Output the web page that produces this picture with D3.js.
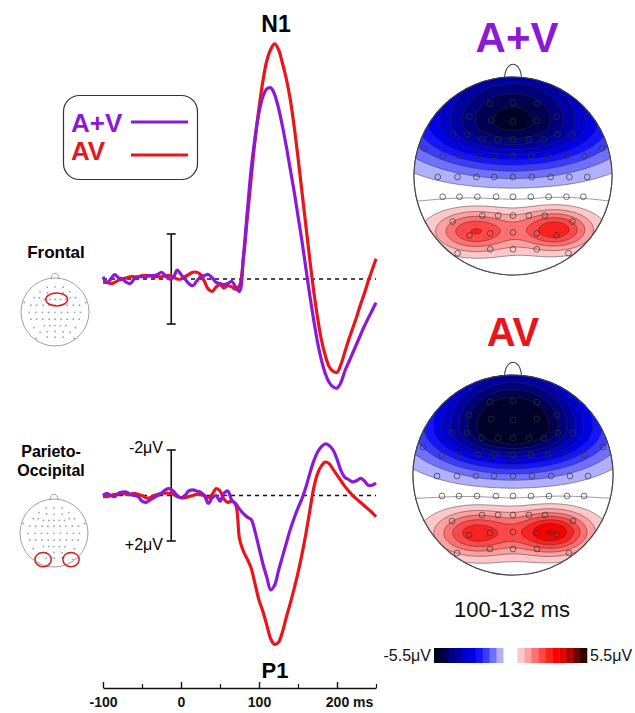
<!DOCTYPE html>
<html>
<head>
<meta charset="utf-8">
<script src="https://cdn.jsdelivr.net/npm/d3@7"></script>
<style>
  body { margin: 0; background: #fff; }
  svg { font-family: "Liberation Sans", Arial, sans-serif; }
</style>
</head>
<body>
<script>
// ---- data ----
const times = d3.range(-100, 251, 5);   // ms, one sample every 5 ms

// frontal ROI, µV (negative plotted up)
const frontalAplusV = [
  -0.1, 0.15, 0.0, -0.2, -0.05, 0.0, 0.15, 0.2, 0.0, -0.1,
  -0.1, -0.1, -0.15, -0.15, -0.2, -0.3, -0.15, 0.0, -0.05, -0.4,
  -0.2, 0.0, 0.2, 0.3, 0.1, -0.1, -0.15, -0.2, -0.05, 0.15,
  0.2, 0.25, 0.2, 0.1, 0.35, 0.55, -1.0, -3.0, -4.9, -6.3,
  -7.4, -8.1, -8.45, -8.5, -8.2, -7.6, -6.8, -5.9, -4.9, -3.9,
  -2.8, -1.7, -0.5, 0.7, 1.8, 2.8, 3.6, 4.2, 4.6, 4.8,
  4.85, 4.6, 4.1, 3.7, 3.3, 2.9, 2.5, 2.1, 1.75, 1.4,
  1.05
];
const frontalAV = [
  0.15, 0.15, 0.2, 0.15, 0.05, 0.0, -0.05, -0.1, -0.1, -0.1,
  -0.15, -0.15, -0.15, -0.1, -0.1, -0.1, -0.15, -0.15, -0.1, 0.0,
  0.0, -0.1, -0.2, -0.3, -0.3, -0.2, 0.1, 0.45, 0.55, 0.35,
  0.25, 0.4, 0.3, 0.35, 0.45, 0.3, -0.9, -2.7, -4.5, -6.2,
  -7.6, -8.8, -9.7, -10.2, -10.45, -10.2, -9.6, -8.9, -8.0, -6.8,
  -5.4, -3.9, -2.4, -0.9, 0.5, 1.7, 2.7, 3.4, 3.9, 4.1,
  4.15, 3.8, 3.25, 2.7, 2.2, 1.7, 1.15, 0.65, 0.1, -0.4,
  -0.9
];
// parieto-occipital ROI
const parietalAplusV = [
  0.0, -0.1, 0.0, 0.05, -0.1, -0.15, -0.15, -0.05, 0.0, 0.05,
  0.25, 0.3, 0.2, 0.1, 0.0, -0.1, -0.25, -0.3, -0.2, 0.0,
  0.1, 0.0, -0.2, -0.25, -0.2, -0.15, 0.0, 0.35, 0.1, 0.0,
  0.25, -0.1, -0.2, 0.2, 0.35, 0.6, 0.8, 0.95, 1.05, 1.6,
  2.3, 3.0, 3.6, 4.15, 3.95, 3.3, 2.7, 2.1, 1.5, 1.0,
  0.55, 0.15, -0.35, -0.95, -1.5, -1.9, -2.15, -2.27, -2.2, -2.0,
  -1.6, -1.1, -0.8, -0.7, -0.6, -0.65, -0.75, -0.65, -0.45, -0.45,
  -0.55
];
const parietalAV = [
  0.05, 0.05, 0.0, -0.05, -0.05, -0.1, -0.05, -0.05, -0.1, -0.05,
  0.0, 0.1, 0.1, 0.0, -0.05, -0.1, -0.1, -0.1, -0.05, 0.05,
  0.1, 0.1, 0.05, 0.0, -0.05, -0.05, 0.0, 0.1, -0.05, -0.3,
  -0.2, 0.15, 0.3, 0.25, 0.4, 1.9, 2.45, 2.8, 3.2, 3.9,
  4.6, 5.1, 5.7, 6.3, 6.55, 6.45, 6.0, 5.35, 4.75, 4.1,
  3.4, 2.6, 1.7, 0.7, -0.3, -0.95, -1.3, -1.47, -1.4, -1.15,
  -0.9, -0.65, -0.4, -0.2, 0.0, 0.15, 0.3, 0.45, 0.6, 0.75,
  0.93
];

const timeTicks = [-100, 0, 100, 200];
const timeMinorTicks = [-50, 50, 150, 250];
const conditions = ["A+V", "AV"];

// 64-channel montage, head units (u right, v toward the back)
const electrodes = [
  [-0.23,-0.73],[0,-0.74],[0.24,-0.73],
  [-0.44,-0.6],[-0.22,-0.56],[0,-0.55],[0.24,-0.56],[0.44,-0.6],
  [-0.61,-0.42],[-0.46,-0.42],[-0.31,-0.37],[-0.15,-0.37],[0,-0.37],[0.16,-0.37],[0.31,-0.37],[0.45,-0.42],[0.6,-0.42],
  [-0.9,-0.28],[0.9,-0.28],
  [-0.71,-0.2],[-0.54,-0.2],[-0.35,-0.2],[-0.18,-0.2],[0,-0.2],[0.18,-0.2],[0.35,-0.2],[0.54,-0.2],[0.72,-0.2],
  [-0.76,0.01],[-0.56,0.01],[-0.37,0.01],[-0.19,0.01],[0,0.01],[0.19,0.01],[0.38,0.01],[0.57,0.01],[0.75,0.01],
  [-0.71,0.21],[-0.54,0.21],[-0.36,0.21],[-0.17,0.21],[0,0.21],[0.18,0.21],[0.36,0.21],[0.54,0.21],[0.71,0.21],
  [-0.31,0.4],[-0.15,0.4],[0,0.4],[0.16,0.4],[0.32,0.4],
  [-0.61,0.46],[0.6,0.46],
  [-0.44,0.6],[-0.23,0.58],[0,0.57],[0.24,0.58],[0.44,0.6],
  [-0.23,0.74],[0,0.74],[0.24,0.74],
  [-0.56,0.78],[0.56,0.78]
];

// topography 100-132 ms: field components (µV)
const topoAplusV = [
  { u: 0, v: -0.55, amp: -5.2, a: 1.0, bUp: 0.75, bDown: 0.45 },
  { u: 0, v: 0.55, amp: 0.9, a: 0.9, bUp: 0.25, bDown: 0.25 },
  { u: -0.4, v: 0.56, amp: 1.8, a: 0.36, bUp: 0.2, bDown: 0.2 },
  { u: 0.44, v: 0.54, amp: 2.2, a: 0.33, bUp: 0.19, bDown: 0.19 }
];
const topoAV = [
  { u: 0, v: -0.48, amp: -6.0, a: 0.85, bUp: 0.7, bDown: 0.4 },
  { u: 0, v: 0.58, amp: 1.0, a: 0.9, bUp: 0.27, bDown: 0.27 },
  { u: -0.38, v: 0.58, amp: 2.0, a: 0.36, bUp: 0.21, bDown: 0.21 },
  { u: 0.4, v: 0.57, amp: 2.7, a: 0.34, bUp: 0.2, bDown: 0.2 }
];

const colorLimit = 5.5;
const colorStep = 0.5;
const blueSteps = ["#000028", "#000050", "#00007a", "#0000a0", "#0000c8", "#0000e8", "#1414ff", "#3c3cff", "#7070ff", "#b0b0ff"];
const redSteps = ["#ffc8c8", "#ffa0a0", "#ff7070", "#ff4848", "#ff2020", "#ff0000", "#e00000", "#b00000", "#700000", "#300000"];

// ---- layout ----
const W = 635, H = 713;
const purple = "#8b1ad6", red = "#e8151b";

const svg = d3.select("body").append("svg")
  .attr("width", W).attr("height", H);

const x = d3.scaleLinear().domain([-100, 250]).range([103, 376]);
const yTop = d3.scaleLinear().domain([-2, 2]).range([234, 324]);
const yBot = d3.scaleLinear().domain([-2, 2]).range([450, 541]);

function drawPanel(y, series) {
  const g = svg.append("g");
  // zero line
  g.append("line")
    .attr("x1", x(-100)).attr("x2", x(250))
    .attr("y1", y(0)).attr("y2", y(0))
    .attr("stroke", "#111").attr("stroke-width", 1.4)
    .attr("stroke-dasharray", "4,4");
  // 4 µV scale bar
  const bx = x(-12.5);
  g.append("line").attr("x1", bx).attr("x2", bx).attr("y1", y(-2)).attr("y2", y(2))
    .attr("stroke", "#111").attr("stroke-width", 1.6);
  [-2, 2].forEach(v => {
    g.append("line").attr("x1", bx - 4.5).attr("x2", bx + 4.5).attr("y1", y(v)).attr("y2", y(v))
      .attr("stroke", "#111").attr("stroke-width", 1.6);
  });
  const line = d3.line()
    .x((d, i) => x(times[i]))
    .y(d => y(d))
    .curve(d3.curveCatmullRom.alpha(0.5));
  series.forEach(s => {
    g.append("path").datum(s.values)
      .attr("d", line)
      .attr("fill", "none")
      .attr("stroke", s.color)
      .attr("stroke-width", 3.2)
      .attr("stroke-linejoin", "round");
  });
  return g;
}

drawPanel(yTop, [{ values: frontalAV, color: red }, { values: frontalAplusV, color: purple }]);
const gb = drawPanel(yBot, [{ values: parietalAV, color: red }, { values: parietalAplusV, color: purple }]);
gb.append("text").attr("x", 163).attr("y", yBot(-2) - 1).attr("text-anchor", "end")
  .attr("dominant-baseline", "middle").attr("font-size", 16).text("-2μV");
gb.append("text").attr("x", 163).attr("y", yBot(2) + 5).attr("text-anchor", "end")
  .attr("dominant-baseline", "middle").attr("font-size", 16).text("+2μV");

// component labels
svg.append("text").attr("x", 276).attr("y", 32).attr("text-anchor", "middle")
  .attr("font-size", 23).attr("font-weight", "bold").text("N1");
svg.append("text").attr("x", 275).attr("y", 678).attr("text-anchor", "middle")
  .attr("font-size", 22).attr("font-weight", "bold").text("P1");

// time axis
const axisY = 688;
const ax = svg.append("g").attr("transform", `translate(0,${axisY})`)
  .call(d3.axisBottom(x).tickValues(timeTicks).tickSizeInner(-6).tickSizeOuter(0)
    .tickPadding(9).tickFormat(d => String(d)));
ax.select(".domain").attr("stroke", "#111").attr("stroke-width", 1.4);
ax.selectAll(".tick line").attr("stroke", "#111").attr("stroke-width", 1.4);
ax.selectAll(".tick text").attr("font-size", 14).attr("font-weight", "bold").attr("fill", "#111")
  .attr("font-family", "Liberation Sans, Arial, sans-serif");
const axm = svg.append("g").attr("transform", `translate(0,${axisY})`)
  .call(d3.axisBottom(x).tickValues(timeMinorTicks).tickSizeInner(-4).tickSizeOuter(0).tickFormat(""));
axm.select(".domain").remove();
axm.selectAll(".tick line").attr("stroke", "#111").attr("stroke-width", 1.2);
svg.append("text").attr("x", x(200) + 16).attr("y", 707).attr("font-size", 14)
  .attr("font-weight", "bold").attr("fill", "#111").text("ms");

// legend
const lg = svg.append("g");
lg.append("rect").attr("x", 63.5).attr("y", 95.5).attr("width", 134).attr("height", 84)
  .attr("rx", 16).attr("fill", "#fff").attr("stroke", "#333").attr("stroke-width", 1.2);
[[purple, 132, 122], [red, 160, 155]].forEach(([c, ty, ly], i) => {
  lg.append("text").attr("x", 71).attr("y", ty).attr("font-size", 26).attr("font-weight", "bold")
    .attr("fill", c).text(conditions[i]);
  lg.append("line").attr("x1", 131).attr("x2", 188).attr("y1", ly).attr("y2", ly)
    .attr("stroke", c).attr("stroke-width", 3.2);
});

// ROI labels and mini heads
svg.append("text").attr("x", 56).attr("y", 258).attr("text-anchor", "middle")
  .attr("font-size", 17).attr("font-weight", "bold").text("Frontal");
svg.append("text").attr("x", 51).attr("y", 457).attr("text-anchor", "middle")
  .attr("font-size", 16).attr("font-weight", "bold").text("Parieto-");
svg.append("text").attr("x", 51).attr("y", 476).attr("text-anchor", "middle")
  .attr("font-size", 16).attr("font-weight", "bold").text("Occipital");

function headOutline(g, cx, cy, R, noseW, noseH, stroke, sw) {
  g.append("path")
    .attr("d", `M${cx - noseW},${cy - R + 1} C${cx - noseW * 0.9},${cy - R - noseH * 1.33} ${cx + noseW * 0.9},${cy - R - noseH * 1.33} ${cx + noseW},${cy - R + 1}`)
    .attr("fill", "#fff").attr("stroke", stroke).attr("stroke-width", sw);
  g.append("circle").attr("cx", cx).attr("cy", cy).attr("r", R)
    .attr("fill", "none").attr("stroke", stroke).attr("stroke-width", sw);
}

function miniHead(cx, cy, rois) {
  const g = svg.append("g");
  const R = 34;
  const hx = d3.scaleLinear().domain([-1, 1]).range([cx - R, cx + R]);
  const hy = d3.scaleLinear().domain([-1, 1]).range([cy - R, cy + R]);
  g.append("circle").attr("cx", cx).attr("cy", cy).attr("r", R).attr("fill", "#fff");
  headOutline(g, cx, cy, R, 4, 5, "#888", 0.8);
  g.selectAll("circle.el").data(electrodes).join("circle").attr("class", "el")
    .attr("cx", d => hx(d[0])).attr("cy", d => hy(d[1])).attr("r", 0.9).attr("fill", "#a0a0a0");
  rois.forEach(r => {
    g.append("ellipse").attr("cx", hx(r.u)).attr("cy", hy(r.v))
      .attr("rx", r.ru * R).attr("ry", r.rv * R)
      .attr("fill", "none").attr("stroke", "#d42020").attr("stroke-width", 1.5);
  });
}
miniHead(55, 312, [{ u: 0.05, v: -0.37, ru: 0.32, rv: 0.19 }]);
miniHead(54, 533, [{ u: -0.32, v: 0.78, ru: 0.24, rv: 0.21 }, { u: 0.5, v: 0.78, ru: 0.24, rv: 0.21 }]);

// ---- topographies ----
function binColor(t) {
  if (t < -colorStep - 1e-9) return blueSteps[Math.max(0, Math.min(9, Math.round((t + colorLimit) / colorStep)))];
  if (t < colorStep - 1e-9) return "#ffffff";
  return redSteps[Math.max(0, Math.min(9, Math.round((t - colorStep) / colorStep)))];
}
const levels = d3.range(-10, 12).map(k => k * colorStep); // -5 .. 5.5

function field(comps, u, v) {
  let s = 0;
  comps.forEach(c => {
    const dv = v - c.v;
    const b = dv < 0 ? c.bUp : c.bDown;
    const r2 = ((u - c.u) / c.a) ** 2 + (dv / b) ** 2;
    s += c.amp * Math.exp(-r2);
  });
  return s;
}

function drawTopo(comps, cx, cy, R, id) {
  const g = svg.append("g");
  const n = 140, ext = 1.02;
  const gridU = d3.scaleLinear().domain([0, n - 1]).range([-ext, ext]);
  const values = new Array(n * n);
  for (let j = 0; j < n; j++)
    for (let i = 0; i < n; i++)
      values[j * n + i] = field(comps, gridU(i), gridU(j));
  const px = d3.scaleLinear().domain([-1, 1]).range([cx - R, cx + R]);
  const py = d3.scaleLinear().domain([-1, 1]).range([cy - R, cy + R]);
  const proj = d3.geoTransform({
    point(gx, gy) { this.stream.point(px(gridU(gx - 0.5)), py(gridU(gy - 0.5))); }
  });
  const path = d3.geoPath(proj);
  const contours = d3.contours().size([n, n]).thresholds(levels)(values);

  g.append("clipPath").attr("id", id).append("circle").attr("cx", cx).attr("cy", cy).attr("r", R);
  headOutline(g, cx, cy, R, 8.5, 13, "#444", 1.1);
  const m = g.append("g").attr("clip-path", `url(#${id})`);
  m.append("rect").attr("x", cx - R).attr("y", cy - R).attr("width", 2 * R).attr("height", 2 * R)
    .attr("fill", binColor(-colorLimit));
  m.selectAll("path").data(contours).join("path")
    .attr("d", path)
    .attr("fill", d => binColor(d.value))
    .attr("stroke", "#333").attr("stroke-width", 0.5);
  g.append("circle").attr("cx", cx).attr("cy", cy).attr("r", R)
    .attr("fill", "none").attr("stroke", "#444").attr("stroke-width", 1.1);
  g.selectAll("circle.el").data(electrodes).join("circle").attr("class", "el")
    .attr("cx", d => px(d[0])).attr("cy", d => py(d[1])).attr("r", 2.9)
    .attr("fill", "none").attr("stroke", "#333").attr("stroke-width", 0.7);
}

svg.append("text").attr("x", 517).attr("y", 52).attr("text-anchor", "middle")
  .attr("font-size", 42).attr("font-weight", "bold").attr("fill", purple).text(conditions[0]);
drawTopo(topoAplusV, 513, 176, 99, "clipAplusV");

svg.append("text").attr("x", 513).attr("y", 346).attr("text-anchor", "middle")
  .attr("font-size", 40).attr("font-weight", "bold").attr("fill", red).text(conditions[1]);
drawTopo(topoAV, 513, 475, 100, "clipAV");

svg.append("text").attr("x", 512).attr("y", 617).attr("text-anchor", "middle")
  .attr("font-size", 22).attr("fill", "#111").text("100-132 ms");

// colour bar
const cb = d3.scaleLinear().domain([-colorLimit, colorLimit]).range([434, 587]);
const bins = d3.range(-11, 11).map(k => k * colorStep);
svg.append("g").selectAll("rect").data(bins).join("rect")
  .attr("x", d => cb(d)).attr("y", 648)
  .attr("width", d => cb(d + colorStep) - cb(d) + 0.3).attr("height", 15)
  .attr("fill", d => binColor(d));
svg.append("text").attr("x", 431).attr("y", 661).attr("text-anchor", "end")
  .attr("font-size", 16).attr("fill", "#111").text("-5.5μV");
svg.append("text").attr("x", 590).attr("y", 661)
  .attr("font-size", 16).attr("fill", "#111").text("5.5μV");
</script>
</body>
</html>
